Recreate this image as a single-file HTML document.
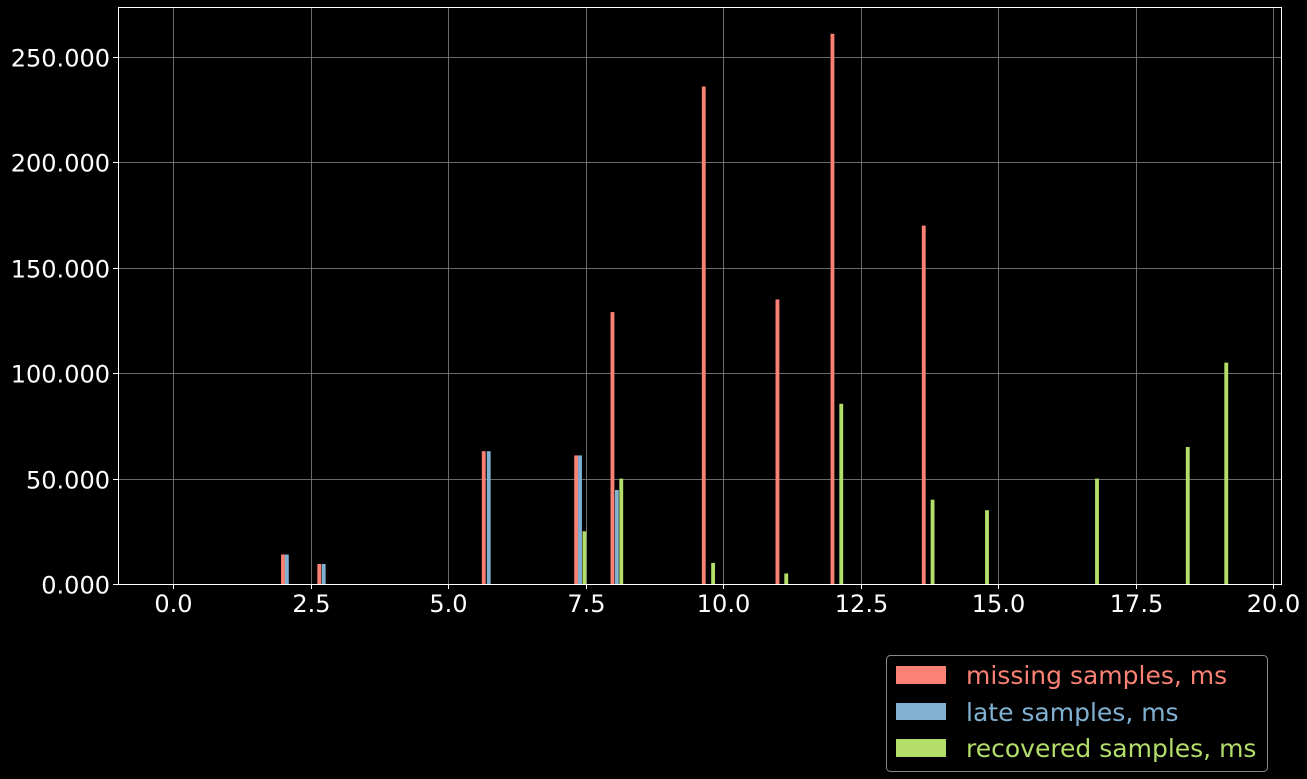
<!DOCTYPE html>
<html><head><meta charset="utf-8"><style>
html,body{margin:0;padding:0;background:#000;}
svg{display:block;font-family:"DejaVu Sans","Liberation Sans",sans-serif;}
</style></head><body>
<svg id="chart" width="1307" height="779" viewBox="0 0 1307 779" xmlns="http://www.w3.org/2000/svg">
<rect x="0" y="0" width="1307" height="779" fill="#000"/>
<g id="grid"></g>
<g id="bars"></g>
<rect x="118.5" y="7.5" width="1163" height="577" fill="none" stroke="#fff" stroke-width="1"/>
<g id="ticks"></g>
<g>
<rect x="886.5" y="655.5" width="381" height="116" rx="4" fill="#000" stroke="#888" stroke-width="1"/>
<rect x="896" y="666" width="50" height="18" fill="#fa8174"/>
<text x="966" y="684" font-size="25" fill="#fa8174">missing samples, ms</text>
<rect x="896" y="703" width="50" height="17" fill="#81b1d2"/>
<text x="966" y="721" font-size="25" fill="#81b1d2">late samples, ms</text>
<rect x="896" y="739" width="50" height="18" fill="#b3de69"/>
<text x="966" y="757" font-size="25" fill="#b3de69">recovered samples, ms</text>
</g>
</svg>
<script>
const missingX = [2.0, 2.66, 5.65, 7.33, 7.99, 9.65, 10.99, 11.99, 13.65];
const missingY = [14, 9.5, 63, 61, 129, 236, 135, 261, 170];
const lateX = [2.07, 2.74, 5.74, 7.40, 8.07];
const lateY = [14, 9.5, 63, 61, 44.6];
const recoveredX = [7.48, 8.15, 9.82, 11.15, 12.15, 13.81, 14.8, 16.8, 18.45, 19.15];
const recoveredY = [25, 50, 10, 5, 85.5, 40, 35, 50, 65, 105];
const xTicks = [0, 2.5, 5, 7.5, 10, 12.5, 15, 17.5, 20];
const xTickLabels = ["0.0","2.5","5.0","7.5","10.0","12.5","15.0","17.5","20.0"];
const yTicks = [0, 50, 100, 150, 200, 250];
const yTickLabels = ["0.000","50.000","100.000","150.000","200.000","250.000"];
const barWidth = 0.07;

const NS = "http://www.w3.org/2000/svg";
const L=118, R=1281, T=7, B=584;
function sx(v){ return 173 + v*55; }
function sy(v){ return 584 - v*2.108; }
function mk(tag, attrs, parent){
  const e=document.createElementNS(NS,tag);
  for(const k in attrs) e.setAttribute(k,attrs[k]);
  parent.appendChild(e); return e;
}
const grid=document.getElementById('grid'), bars=document.getElementById('bars'), ticks=document.getElementById('ticks');
xTicks.forEach((v,i)=>{
  const x=Math.round(sx(v))+0.5;
  const g=mk('line',{x1:x,x2:x,y1:T,y2:B,stroke:'#777','stroke-width':1,'stroke-opacity':0.9},grid);
  
  
  const t=mk('line',{x1:x,x2:x,y1:B,y2:B+5,stroke:'#fff','stroke-width':1},ticks);
  
  
  const lab=mk('text',{x:x,y:612,'font-size':24,fill:'#fff','text-anchor':'middle'},ticks);
  lab.textContent=xTickLabels[i];
  
  
});
yTicks.forEach((v,i)=>{
  const y=Math.round(sy(v))+0.5;
  const g=mk('line',{x1:L,x2:R,y1:y,y2:y,stroke:'#777','stroke-width':1,'stroke-opacity':0.9},grid);
  
  
  const t=mk('line',{x1:L-5,x2:L,y1:y,y2:y,stroke:'#fff','stroke-width':1},ticks);
  
  
  const lab=mk('text',{x:110,y:y+9,'font-size':24,fill:'#fff','text-anchor':'end'},ticks);
  lab.textContent=yTickLabels[i];
  
  
});
function drawSeries(xs, ys, color, name){
  xs.forEach((xv,i)=>{
    const x0=sx(xv-barWidth/2), x1=sx(xv+barWidth/2);
    const y0=sy(ys[i]);
    const r=mk('rect',{x:x0,y:y0,width:x1-x0,height:B-y0,fill:color},bars);
    
    
  });
}
drawSeries(missingX, missingY, '#fa8174', 'missing-bar');
drawSeries(lateX, lateY, '#81b1d2', 'late-bar');
drawSeries(recoveredX, recoveredY, '#b3de69', 'recovered-bar');
</script>
</body></html>
